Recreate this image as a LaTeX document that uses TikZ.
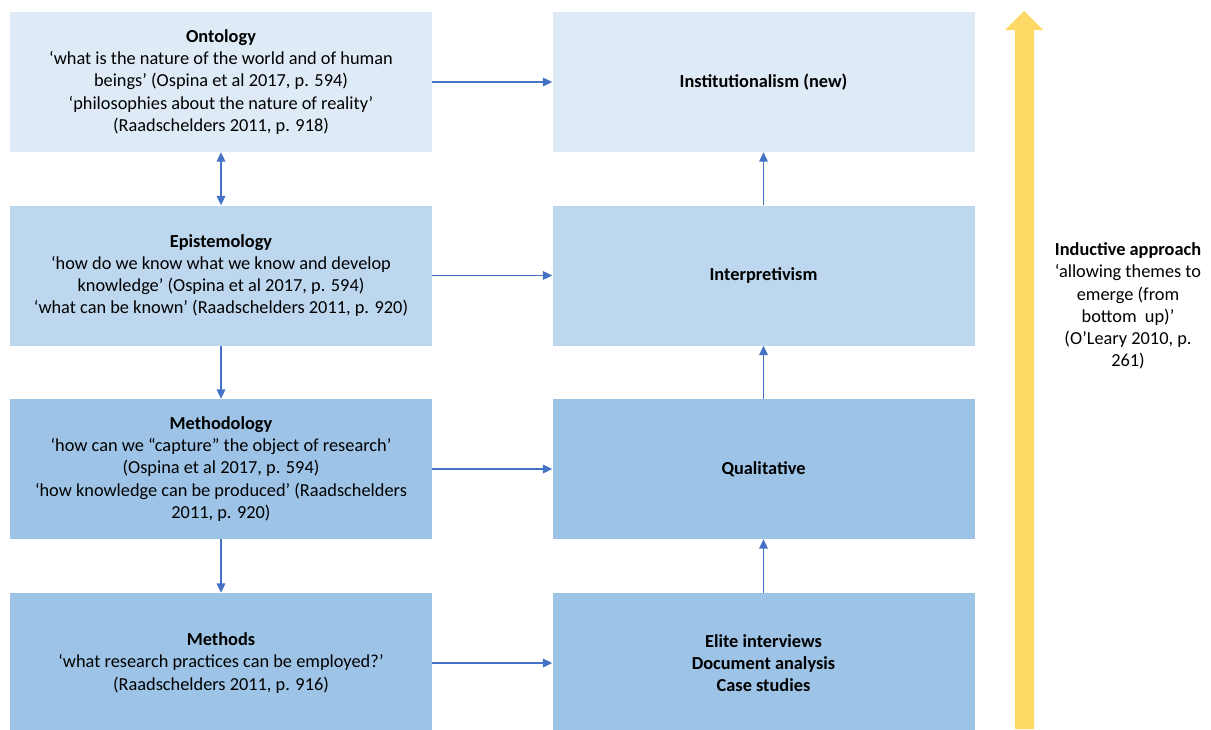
\documentclass[tikz,border=0pt]{standalone}
\usepackage{fontspec}
\setmainfont{Carlito}
\usetikzlibrary{arrows.meta}
\definecolor{tierA}{HTML}{DEEBF7}
\definecolor{tierB}{HTML}{BDD7EE}
\definecolor{tierC}{HTML}{9DC3E6}
\definecolor{linkblue}{HTML}{4472C4}
\definecolor{gold}{HTML}{FFD966}
\begin{document}
\begin{tikzpicture}[x=0.75pt,y=-0.75pt,
  box/.style={rectangle, draw=none, inner sep=0pt, align=center,
    minimum width=316.5pt, minimum height=105pt,
    font=\fontsize{13.75}{16.6}\selectfont},
  conn/.style={draw=linkblue, line width=1pt,
    -{Triangle[length=7pt,width=6.5pt]}},
  both/.style={draw=linkblue, line width=1pt,
    {Triangle[length=7pt,width=6.5pt]}-{Triangle[length=7pt,width=6.5pt]}},
  note/.style={align=center, inner sep=0pt,
    font=\fontsize{13.75}{16.6}\selectfont}]
\useasboundingbox (0,0) rectangle (1211,729);
\clip (0,0) rectangle (1211,729);

% left column: levels of research philosophy
\node[box, fill=tierA] (ont) at (221,82) {\textbf{Ontology}\\
  ‘what is the nature of the world and of human\\
  beings’ (Ospina et al 2017, p. 594)\\
  ‘philosophies about the nature of reality’\\
  (Raadschelders 2011, p. 918)};
\node[box, fill=tierB] (epi) at (221,275.5) {\textbf{Epistemology}\\
  ‘how do we know what we know and develop\\
  knowledge’ (Ospina et al 2017, p. 594)\\
  ‘what can be known’ (Raadschelders 2011, p. 920)};
\node[box, fill=tierC] (mgy) at (221,469) {\textbf{Methodology}\\
  ‘how can we “capture” the object of research’\\
  (Ospina et al 2017, p. 594)\\
  ‘how knowledge can be produced’ (Raadschelders\\
  2011, p. 920)};
\node[box, fill=tierC] (mth) at (221,663) {\textbf{Methods}\\
  ‘what research practices can be employed?’\\
  (Raadschelders 2011, p. 916)};

% right column: choices made in this study
\node[box, fill=tierA] (inst) at (763.5,82) {\textbf{Institutionalism (new)}};
\node[box, fill=tierB] (intp) at (763.5,275.5) {\textbf{Interpretivism}};
\node[box, fill=tierC] (qual) at (763.5,469) {\textbf{Qualitative}};
\node[box, fill=tierC] (tech) at (763.5,663) {\textbf{Elite interviews}\\
  \textbf{Document analysis}\\ \textbf{Case studies}};

% connectors
\draw[conn] (ont.east) -- (inst.west);
\draw[conn] (epi.east) -- (intp.west);
\draw[conn] (mgy.east) -- (qual.west);
\draw[conn] (mth.east) -- (tech.west);
\draw[both] (ont.south) -- (epi.north);
\draw[conn] (epi.south) -- (mgy.north);
\draw[conn] (mgy.south) -- (mth.north);
\draw[conn] (intp.north) -- (inst.south);
\draw[conn] (qual.north) -- (intp.south);
\draw[conn] (tech.north) -- (qual.south);

% bottom-up arrow
\fill[gold] (1015,729) -- (1015,30) -- (1005,30) -- (1024,11)
  -- (1043,30) -- (1034,30) -- (1034,729) -- cycle;
\node[note] (ind) at (1128,306) {\textbf{Inductive approach}\\
  ‘allowing themes to\\ emerge (from\\ bottom\ \ up)’\\
  (O’Leary 2010, p.\\ 261)};
\end{tikzpicture}
\end{document}
